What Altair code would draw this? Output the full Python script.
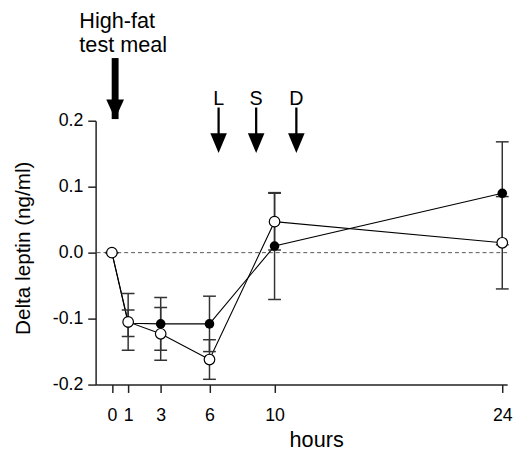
import altair as alt
import pandas as pd

# ---- data ----
hours = [0, 1, 3, 6, 10, 24]
filled_mean = [0.0, -0.107, -0.108, -0.108, 0.010, 0.090]
filled_err = [0.0, 0.020, 0.040, 0.042, 0.081, 0.078]
open_mean = [0.0, -0.105, -0.123, -0.162, 0.047, 0.015]
open_err = [0.0, 0.043, 0.040, 0.030, 0.043, 0.070]

x_ticks = [0, 1, 3, 6, 10, 24]
y_ticks = [-0.2, -0.1, 0.0, 0.1, 0.2]

meal_lines = ["High-fat", "test meal"]
meal_text_x = [-2.0, -2.0]
meal_text_y = [0.3413, 0.304]
meal_x = [0.2]
meal_top = [0.295]
meal_tip = [0.2025]

event_labels = ["L", "S", "D"]
event_x = [6.56, 8.87, 11.34]
event_text_y = [0.2245, 0.2245, 0.2245]
event_top = [0.220, 0.220, 0.220]
event_tip = [0.151, 0.151, 0.151]

FONT = "Liberation Sans"

filled = pd.DataFrame({"x": hours, "y": filled_mean,
                       "lo": [m - e for m, e in zip(filled_mean, filled_err)],
                       "hi": [m + e for m, e in zip(filled_mean, filled_err)]})
opn = pd.DataFrame({"x": hours, "y": open_mean,
                    "lo": [m - e for m, e in zip(open_mean, open_err)],
                    "hi": [m + e for m, e in zip(open_mean, open_err)]})
errs = pd.concat([filled, opn], ignore_index=True)
err_caps = pd.concat([errs[["x", "lo"]].rename(columns={"lo": "y"}),
                      errs[["x", "hi"]].rename(columns={"hi": "y"})], ignore_index=True)

xs = alt.Scale(domain=[-1, 24.3], nice=False, zero=False)
ys = alt.Scale(domain=[-0.2, 0.2], nice=False, zero=False)

xaxis = alt.Axis(values=x_ticks, grid=False, tickSize=8, tickColor="#222", tickWidth=1.5,
                 domainColor="#222", domainWidth=1.5, labelFont=FONT, labelFontSize=18,
                 labelColor="black", labelPadding=28, labelBaseline="alphabetic",
                 labelFlush=False, titleFont=FONT, titleFontSize=22, titleFontWeight="normal",
                 titleColor="black", titleX=224, titleY=63, titleBaseline="alphabetic",
                 titleAlign="center")
yaxis = alt.Axis(values=y_ticks, grid=False, tickSize=8, tickColor="#222", tickWidth=1.5,
                 domainColor="#222", domainWidth=1.5, labelFont=FONT, labelFontSize=18,
                 labelColor="black", labelPadding=5,
                 labelExpr="replace(format(datum.value, '.1f'), '\u2212', '-')",
                 titleFont=FONT, titleFontSize=21, titleFontWeight="normal",
                 titleColor="black", titleX=-67, titleY=129, titleAngle=270,
                 titleBaseline="alphabetic", titleAlign="center")

X = alt.X("x:Q", scale=xs, axis=xaxis, title="hours")
Y = alt.Y("y:Q", scale=ys, axis=yaxis, title="Delta leptin (ng/ml)")

zero = alt.Chart(pd.DataFrame({"y": [0.0]})).mark_rule(
    color="#555", strokeDash=[4, 3], strokeWidth=1).encode(y=Y)

line_f = alt.Chart(filled).mark_line(color="black", strokeWidth=1.1).encode(x=X, y=Y)
line_o = alt.Chart(opn).mark_line(color="black", strokeWidth=1.1).encode(x=X, y=Y)

bars = alt.Chart(errs).mark_rule(color="#333", strokeWidth=1.5).encode(
    x=X, y=alt.Y("lo:Q", scale=ys), y2="hi:Q")
caps = alt.Chart(err_caps).mark_tick(color="#333", orient="horizontal", size=13,
                                     thickness=1.5, opacity=1).encode(x=X, y=Y)

pts_f = alt.Chart(filled).mark_point(filled=True, color="black", size=95, opacity=1).encode(x=X, y=Y)
pts_o = alt.Chart(opn).mark_point(filled=True, fill="white", stroke="black", strokeWidth=1.2,
                                  size=115, opacity=1).encode(x=X, y=Y)

meal_df = pd.DataFrame({"x": meal_x, "y": meal_top, "y2": meal_tip})
meal_shaft = alt.Chart(meal_df).mark_rule(color="black", strokeWidth=7).encode(
    x=X, y=Y, y2=alt.Y2("y2:Q"))
meal_head = alt.Chart(pd.DataFrame({"x": meal_x, "y": meal_tip})).mark_point(
    shape="M-0.9,-2L0.9,-2L0,0Z", size=400, filled=True, color="black", opacity=1,
    strokeWidth=0).encode(x=X, y=Y)
meal_txt = alt.Chart(pd.DataFrame({"x": meal_text_x, "y": meal_text_y, "t": meal_lines})).mark_text(
    align="left", baseline="alphabetic", font=FONT, fontSize=22, color="black").encode(
    x=X, y=Y, text="t:N")

ev_df = pd.DataFrame({"x": event_x, "y": event_top, "y2": [t + 0.02 for t in event_tip]})
ev_shaft = alt.Chart(ev_df).mark_rule(color="black", strokeWidth=2.3).encode(
    x=X, y=Y, y2=alt.Y2("y2:Q"))
ev_head = alt.Chart(pd.DataFrame({"x": event_x, "y": event_tip})).mark_point(
    shape="M-0.84,-2L0.84,-2L0,0Z", size=400, filled=True, color="black", opacity=1,
    strokeWidth=0).encode(x=X, y=Y)
ev_txt = alt.Chart(pd.DataFrame({"x": event_x, "y": event_text_y, "t": event_labels})).mark_text(
    align="center", baseline="alphabetic", font=FONT, fontSize=20, color="black").encode(
    x=X, y=Y, text="t:N")

chart = alt.layer(
    zero, line_f, line_o, bars, caps, pts_f, pts_o,
    meal_shaft, meal_head, meal_txt, ev_shaft, ev_head, ev_txt
).properties(
    width=418, height=268,
    padding={"left": 89, "top": 111, "right": 10, "bottom": 66},
    autosize=alt.AutoSizeParams(type="none"),
).configure_view(stroke=None)

chart.save("out.html", embed_options={"renderer": "svg", "actions": False})
